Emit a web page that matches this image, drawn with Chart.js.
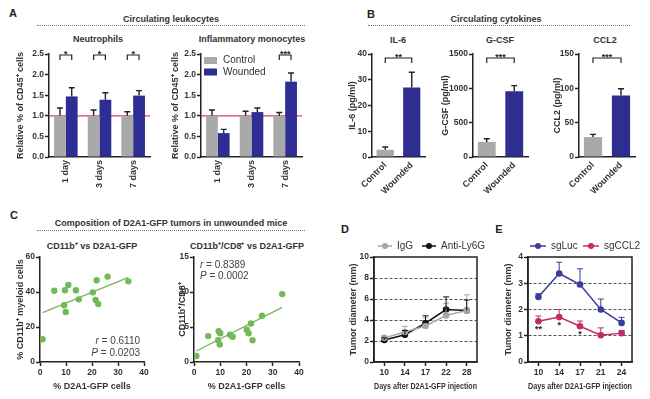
<!DOCTYPE html>
<html>
<head>
<meta charset="utf-8">
<script src="https://cdn.jsdelivr.net/npm/chart.js"></script>
<style>
body { margin: 0; background: #fff; }
#fig { position: relative; width: 650px; height: 399px; overflow: hidden; font-family: "Liberation Sans", Arial, sans-serif; color: #333; }
#fig canvas { position: absolute; }
.t { position: absolute; font-weight: bold; font-size: 9px; white-space: nowrap; transform: translate(-50%, -50%); }
.p { position: absolute; font-weight: bold; font-size: 11px; color: #222; transform: translate(-50%, -50%); }
.dots { position: absolute; height: 0; border-top: 1px dotted #777; }
</style>
</head>
<body>
<div id="fig">
  <div class="p" style="left:13px;top:13px">A</div>
  <div class="p" style="left:371px;top:14px">B</div>
  <div class="p" style="left:14px;top:215px">C</div>
  <div class="p" style="left:345px;top:229px">D</div>
  <div class="p" style="left:499px;top:229px">E</div>

  <div class="t" style="left:171px;top:19px">Circulating leukocytes</div>
  <div class="dots" style="left:37px;top:25px;width:268px"></div>
  <div class="t" style="left:496px;top:19px">Circulating cytokines</div>
  <div class="dots" style="left:368px;top:25px;width:262px"></div>
  <div class="t" style="left:171px;top:223px">Composition of D2A1-GFP tumors in unwounded mice</div>
  <div class="dots" style="left:37px;top:230px;width:268px"></div>

  <div class="t" style="left:98px;top:39px">Neutrophils</div>
  <div class="t" style="left:252px;top:39px">Inflammatory monocytes</div>
  <div class="t" style="left:398px;top:40px">IL-6</div>
  <div class="t" style="left:500px;top:40px">G-CSF</div>
  <div class="t" style="left:605px;top:40px">CCL2</div>
  <div class="t" style="left:92px;top:245px">CD11b⁺ vs D2A1-GFP</div>
  <div class="t" style="left:247px;top:245px">CD11b⁺/CD8⁺ vs D2A1-GFP</div>
</div>

<script>
// ---- data ----
var daysA = ['1 day', '3 days', '7 days'];
var neutroCtrl = [1.0, 1.0, 1.0];
var neutroCtrlErr = [1.19, 1.14, 1.10];
var neutroWound = [1.47, 1.39, 1.49];
var neutroWoundErr = [1.68, 1.56, 1.61];
var neutroSig = ['*', '*', '*'];

var monoCtrl = [1.0, 1.0, 1.0];
var monoCtrlErr = [1.14, 1.11, 1.08];
var monoWound = [0.58, 1.09, 1.83];
var monoWoundErr = [0.67, 1.19, 2.04];
var monoSig = ['', '', '***'];

var groupsB = ['Control', 'Wounded'];
var il6 = [2.8, 27];
var il6Err = [3.9, 32.9];
var gcsf = [220, 957];
var gcsfErr = [265, 1040];
var ccl2 = [29, 89.5];
var ccl2Err = [33, 99.5];
var sigB = ['**', '***', '***'];

var gfpX1 = [1.0, 5.5, 9.6, 10.9, 9.3, 9.9, 13.8, 14.9, 20.3, 21.8, 21.4, 22.4, 26.0, 34.0];
var cd11bY = [13.0, 40.7, 41.0, 44.0, 32.4, 28.6, 41.0, 35.8, 39.8, 46.7, 35.4, 33.1, 48.8, 46.1];
var fitX1 = [1.0, 34.0];
var fitY1 = [28.2, 48.4];
var statsC1 = ['0.6110', '0.0203'];

var gfpX2 = [0.9, 5.4, 9.2, 9.4, 10.0, 9.8, 13.7, 14.7, 20.1, 20.8, 21.7, 22.3, 25.9, 33.6];
var ratioY = [0.86, 3.7, 3.1, 4.4, 4.1, 2.5, 3.9, 3.6, 4.6, 4.1, 5.5, 3.1, 6.6, 9.7];
var fitX2 = [0.9, 33.6];
var fitY2 = [1.57, 7.8];
var statsC2 = ['0.8389', '0.0002'];

var daysD = ['10', '14', '17', '22', '28'];
var igg = [2.3, 2.86, 3.43, 4.44, 4.9];
var iggErr = [2.5, 3.4, 4.2, 5.6, 6.4];
var antiLy6g = [2.1, 2.6, 3.7, 5.0, 4.9];
var antiLy6gErr = [2.3, 3.0, 4.4, 6.2, 5.9];

var daysE = ['10', '14', '17', '21', '24'];
var sgLuc = [2.48, 3.37, 2.95, 2.0, 1.49];
var sgLucErr = [2.6, 3.8, 3.55, 2.4, 1.7];
var sgCcl2 = [1.55, 1.71, 1.36, 1.02, 1.1];
var sgCcl2Err = [1.75, 2.0, 1.56, 1.3, 1.2];
var sigE = ['**', '*', '*', '', ''];

// ---- colours ----
var GRAY = '#a9a9a9';
var BLUE = '#2d2d92';
var INK = '#222';
var RED = '#dc4258';
var GREEN = '#74b957';
var FONT = '"Liberation Sans", Arial, sans-serif';

Chart.defaults.font.family = FONT;
Chart.defaults.font.size = 8.5;
Chart.defaults.font.weight = 'bold';
Chart.defaults.color = '#333';
Chart.defaults.animation = false;
Chart.defaults.plugins.legend.display = false;
Chart.defaults.plugins.tooltip.enabled = false;

// error bars, brackets, ref line, legends, stats
var extras = {
    id: 'extras',
    beforeDatasetsDraw: function (chart, args, o) {
        var ctx = chart.ctx, a = chart.chartArea;
        if (o.refLine !== undefined) {
            var y = chart.scales.y.getPixelForValue(o.refLine);
            ctx.save();
            ctx.strokeStyle = RED;
            ctx.lineWidth = 1.3;
            ctx.beginPath();
            ctx.moveTo(a.left, y);
            ctx.lineTo(a.right, y);
            ctx.stroke();
            ctx.restore();
        }
    },
    afterDatasetsDraw: function (chart, args, o) {
        var ctx = chart.ctx, a = chart.chartArea, ys = chart.scales.y;
        ctx.save();
        if (o.errors) {
            o.errors.forEach(function (errs, i) {
                var meta = chart.getDatasetMeta(i);
                ctx.strokeStyle = o.errColors[i];
                ctx.lineWidth = o.errWidth || 1.4;
                meta.data.forEach(function (el, j) {
                    var top = ys.getPixelForValue(errs[j]);
                    ctx.beginPath();
                    ctx.moveTo(el.x, el.y);
                    ctx.lineTo(el.x, top);
                    ctx.moveTo(el.x - 3, top);
                    ctx.lineTo(el.x + 3, top);
                    ctx.stroke();
                });
            });
        }
        ctx.strokeStyle = INK;
        ctx.fillStyle = '#222';
        ctx.lineWidth = 1.2;
        ctx.font = 'bold 9px ' + FONT;
        ctx.textAlign = 'center';
        ctx.textBaseline = 'alphabetic';
        function bracket(x1, x2, y, label) {
            ctx.beginPath();
            ctx.moveTo(x1, y + 5);
            ctx.lineTo(x1, y);
            ctx.lineTo(x2, y);
            ctx.lineTo(x2, y + 5);
            ctx.stroke();
            ctx.fillText(label, (x1 + x2) / 2, y + 1.5);
        }
        if (o.sig) {
            var m0 = chart.getDatasetMeta(0), m1 = chart.getDatasetMeta(1);
            o.sig.forEach(function (s, j) {
                if (s) bracket(m0.data[j].x, m1.data[j].x, a.top + 1, s);
            });
        }
        if (o.pairSig) {
            var m = chart.getDatasetMeta(0);
            bracket(m.data[0].x, m.data[1].x, a.top + 4, o.pairSig);
        }
        if (o.pointSig) {
            var mp = chart.getDatasetMeta(1);
            ctx.textBaseline = 'top';
            o.pointSig.forEach(function (s, j) {
                if (s) ctx.fillText(s, mp.data[j].x, mp.data[j].y + 4);
            });
        }
        ctx.restore();
    },
    afterDraw: function (chart, args, o) {
        var ctx = chart.ctx, a = chart.chartArea;
        var ox = o.origin[0], oy = o.origin[1];
        ctx.save();
        if (o.box) {
            ctx.strokeStyle = INK;
            ctx.lineWidth = 1.5;
            ctx.strokeRect(a.left, a.top, a.right - a.left, a.bottom - a.top);
        }
        if (o.legend) {
            var L = o.legend;
            ctx.font = '10px ' + FONT;
            ctx.textAlign = 'left';
            ctx.textBaseline = 'middle';
            chart.data.datasets.forEach(function (ds, i) {
                if (L.type === 'box') {
                    var bx = L.x - ox, by = L.y - oy + i * L.dy;
                    ctx.fillStyle = ds.backgroundColor;
                    ctx.fillRect(bx, by - 3.5, 13, 7);
                    ctx.fillStyle = '#333';
                    ctx.fillText(ds.label, bx + 19, by);
                } else {
                    var lx = L.xs[i] - ox, ly = L.y - oy;
                    ctx.strokeStyle = ds.borderColor;
                    ctx.fillStyle = ds.borderColor;
                    ctx.lineWidth = 1.5;
                    ctx.beginPath();
                    ctx.moveTo(lx, ly);
                    ctx.lineTo(lx + L.w, ly);
                    ctx.stroke();
                    ctx.beginPath();
                    ctx.arc(lx + L.w / 2, ly, 3, 0, Math.PI * 2);
                    ctx.fill();
                    ctx.fillStyle = '#333';
                    ctx.fillText(ds.label, lx + L.w + 5, ly);
                }
            });
        }
        if (o.stats) {
            var S = o.stats;
            ['r', 'P'].forEach(function (letter, i) {
                var rest = ' = ' + S.values[i];
                ctx.font = 'italic 10px ' + FONT;
                var w1 = ctx.measureText(letter).width;
                ctx.font = '10px ' + FONT;
                var w2 = ctx.measureText(rest).width;
                var x = S.x - ox;
                if (S.align === 'right') x = x - w1 - w2;
                var y = S.ys[i] - oy;
                ctx.fillStyle = '#444';
                ctx.textAlign = 'left';
                ctx.textBaseline = 'middle';
                ctx.font = 'italic 10px ' + FONT;
                ctx.fillText(letter, x, y);
                ctx.font = '10px ' + FONT;
                ctx.fillText(rest, x + w1, y);
            });
        }
        ctx.restore();
    }
};

// box = canvas rect on page, area = plot rect on page
function mk(box, area, cfg) {
    var c = document.createElement('canvas');
    c.width = box[2] - box[0];
    c.height = box[3] - box[1];
    c.style.left = box[0] + 'px';
    c.style.top = box[1] + 'px';
    document.getElementById('fig').appendChild(c);
    var o = cfg.options;
    o.responsive = false;
    o.layout = { autoPadding: false, padding: { left: 0, bottom: 0, top: area[1] - box[1], right: box[2] - area[2] } };
    o.scales.x.afterFit = function (s) { s.height = box[3] - area[3]; };
    o.scales.y.afterFit = function (s) { s.width = area[0] - box[0]; };
    o.plugins = o.plugins || {};
    o.plugins.extras = o.plugins.extras || {};
    o.plugins.extras.origin = [box[0], box[1]];
    cfg.plugins = [extras];
    return new Chart(c, cfg);
}

function plain(v) { return String(v); }
function oneDec(v) { return v.toFixed(1); }

function yAxis(min, max, step, title, fmt) {
    return {
        min: min, max: max,
        ticks: { stepSize: step, padding: 1, font: { size: 8.5 }, callback: fmt || plain },
        grid: { drawOnChartArea: false, tickLength: 4, tickColor: INK, tickWidth: 1.5 },
        border: { color: INK, width: 1.5 },
        title: { display: true, text: title, font: { size: 9 }, padding: 0, color: '#333' }
    };
}

function catX(rot) {
    return {
        grid: { display: false, drawTicks: false, tickLength: 0 },
        border: { color: INK, width: 1.5 },
        ticks: { autoSkip: false, minRotation: rot, maxRotation: rot, padding: 3, font: { size: 9 } }
    };
}

// ---- A ----
function groupBars(ctrl, wound) {
    return [
        { label: 'Control', data: ctrl, backgroundColor: GRAY, categoryPercentage: 0.7, barPercentage: 1 },
        { label: 'Wounded', data: wound, backgroundColor: BLUE, categoryPercentage: 0.7, barPercentage: 1 }
    ];
}

mk([15, 44, 156, 194], [49, 54, 150, 157], {
    type: 'bar',
    data: { labels: daysA, datasets: groupBars(neutroCtrl, neutroWound) },
    options: {
        scales: { x: catX(90), y: yAxis(0, 2.5, 0.5, 'Relative % of CD45⁺ cells', oneDec) },
        plugins: { extras: { refLine: 1, errors: [neutroCtrlErr, neutroWoundErr], errColors: [INK, INK], sig: neutroSig } }
    }
});

mk([170, 44, 309, 194], [201, 54, 302, 157], {
    type: 'bar',
    data: { labels: daysA, datasets: groupBars(monoCtrl, monoWound) },
    options: {
        scales: { x: catX(90), y: yAxis(0, 2.5, 0.5, 'Relative % of CD45⁺ cells', oneDec) },
        plugins: { extras: { refLine: 1, errors: [monoCtrlErr, monoWoundErr], errColors: [INK, INK], sig: monoSig,
            legend: { type: 'box', x: 204, y: 60.5, dy: 11.5 } } }
    }
});

// ---- B ----
function cytokine(box, area, vals, errs, max, step, title, sig) {
    mk(box, area, {
        type: 'bar',
        data: { labels: groupsB, datasets: [{ label: title, data: vals, backgroundColor: [GRAY, BLUE], categoryPercentage: 1, barPercentage: 0.65 }] },
        options: {
            scales: { x: catX(45), y: yAxis(0, max, step, title) },
            plugins: { extras: { errors: [errs], errColors: [INK], pairSig: sig } }
        }
    });
}
cytokine([347, 44, 432, 202], [372, 54, 425, 157], il6, il6Err, 40, 10, 'IL-6 (pg/ml)', sigB[0]);
cytokine([440, 44, 535, 202], [473, 54, 528, 157], gcsf, gcsfErr, 1500, 500, 'G-CSF (pg/ml)', sigB[1]);
cytokine([552, 44, 645, 202], [579, 54, 635, 157], ccl2, ccl2Err, 150, 50, 'CCL2 (pg/ml)', sigB[2]);

// ---- C ----
function pts(xs, ys) {
    return xs.map(function (x, i) { return { x: x, y: ys[i] }; });
}
function scatter(box, area, xs, ys, fx, fy, ymax, ystep, ytitle, stats) {
    var xa = yAxis(0, 40, 10, '% D2A1-GFP cells');
    xa.ticks.padding = 2;
    mk(box, area, {
        type: 'scatter',
        data: {
            datasets: [
                { data: pts(xs, ys), backgroundColor: GREEN, pointRadius: 3.2, pointBorderWidth: 0, order: 1 },
                { type: 'line', data: pts(fx, fy), borderColor: GREEN, borderWidth: 1.3, pointRadius: 0, showLine: true, order: 2 }
            ]
        },
        options: {
            scales: { x: xa, y: yAxis(0, ymax, ystep, ytitle) },
            plugins: { extras: { stats: stats } }
        }
    });
}
scatter([15, 250, 152, 392], [40, 257, 144, 362], gfpX1, cd11bY, fitX1, fitY1, 60, 20, '% CD11b⁺ myeloid cells',
    { values: statsC1, x: 140, ys: [341, 353], align: 'right' });
scatter([177, 250, 308, 392], [194, 257, 299, 362], gfpX2, ratioY, fitX2, fitY2, 15, 5, 'CD11b⁺/CD8⁺',
    { values: statsC2, x: 200, ys: [265, 276], align: 'left' });

// ---- D, E ----
function growth(box, area, days, series, ymax, ystep, legendXs, legendW, sig) {
    var ya = yAxis(0, ymax, ystep, 'Tumor diameter (mm)');
    ya.grid.drawOnChartArea = true;
    ya.grid.color = function (c) {
        return (c.tick && (c.tick.value === 0 || c.tick.value === ymax)) ? 'rgba(0,0,0,0)' : '#555';
    };
    ya.grid.lineWidth = 1;
    ya.border.dash = [3, 2];
    var xa = {
        offset: true,
        grid: { display: true, drawOnChartArea: false, offset: false, tickLength: 4, tickColor: INK, tickWidth: 1.5 },
        border: { color: INK, width: 1.5 },
        ticks: { padding: 2, font: { size: 8.5 } },
        title: { display: true, text: 'Days after D2A1-GFP injection', font: { size: 9 }, padding: 0, color: '#333' }
    };
    mk(box, area, {
        type: 'line',
        data: {
            labels: days,
            datasets: series.map(function (s) {
                return { label: s.label, data: s.data, borderColor: s.color, backgroundColor: s.color, borderWidth: 1.5,
                    pointRadius: 3.3, pointBorderWidth: 0, pointBackgroundColor: s.color, tension: 0 };
            })
        },
        options: {
            scales: { x: xa, y: ya },
            plugins: { extras: {
                errors: series.map(function (s) { return s.err; }),
                errColors: series.map(function (s) { return s.color; }),
                errWidth: 1,
                box: true,
                pointSig: sig,
                legend: { type: 'line', xs: legendXs, y: 246, w: legendW }
            } }
        }
    });
}
growth([348, 240, 490, 392], [374, 257, 477, 362], daysD, [
    { label: 'IgG', data: igg, err: iggErr, color: '#a5a5a5' },
    { label: 'Anti-Ly6G', data: antiLy6g, err: antiLy6gErr, color: '#111' }
], 10, 2, [378, 422], 14, null);
growth([503, 240, 645, 392], [528, 257, 632, 362], daysE, [
    { label: 'sgLuc', data: sgLuc, err: sgLucErr, color: '#3b3b9c' },
    { label: 'sgCCL2', data: sgCcl2, err: sgCcl2Err, color: '#c02c68' }
], 4, 1, [530, 583], 16, sigE);
</script>
</body>
</html>
